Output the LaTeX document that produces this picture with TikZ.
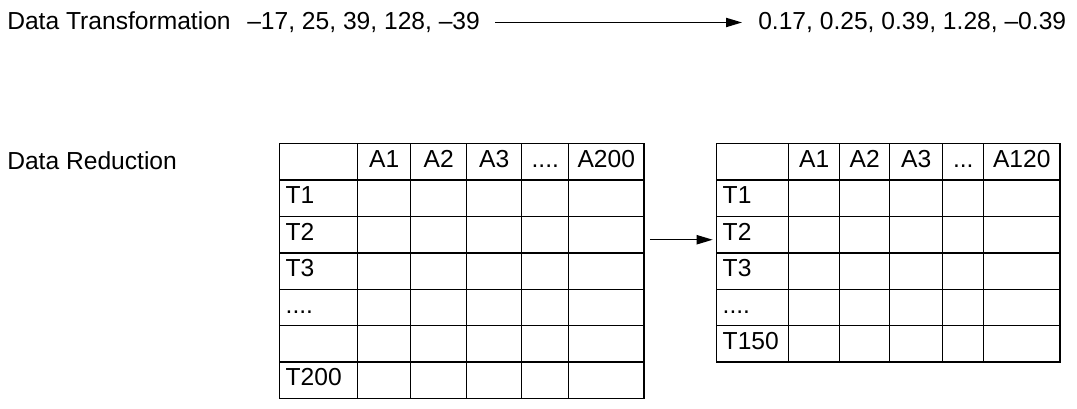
\documentclass[tikz,border=0pt]{standalone}
\usepackage{fontspec}
\setmainfont{Liberation Sans}
\usetikzlibrary{matrix,arrows.meta}
\tikzset{
	cell/.style={draw, line width=1pt, minimum height=0.91cm, inner sep=0pt, anchor=center,
		text height=0.8em, text depth=0pt},
	lbl/.style={anchor=base west, inner sep=0pt},
	arr/.style={line width=1pt, -{Triangle[length=0.4cm, width=0.23cm]}},
	tbl/.style={matrix of nodes, nodes in empty cells, anchor=north west, inner sep=0pt, outer sep=0pt,
		column sep=-1pt, row sep=-1pt, nodes={cell},
		column 1/.style={nodes={text width=#1, align=left, inner xsep=0.15cm}}},
}
\begin{document}
\begin{tikzpicture}[x=0.025cm, y=-0.025cm, font=\fontsize{17.5}{21}\selectfont]
					\useasboundingbox (0,0) rectangle (1077,408);
					\node[lbl] (trans) at (7,29.5) {Data Transformation};
					\node[lbl] (raw) at (247,29.5) {--17, 25, 39, 128, --39};
					\node[lbl] (norm) at (758,29.5) {0.17, 0.25, 0.39, 1.28, --0.39};
					\draw[arr, shorten <=0.375cm, shorten >=0.4cm] (raw.east) -- (raw.east -| norm.west);
					\node[lbl] (red) at (7,169) {Data Reduction};
					\matrix (lt) [tbl=1.65cm,
						column 2/.style={nodes={minimum width=1.325cm}},
						column 3/.style={nodes={minimum width=1.4cm}},
						column 4/.style={nodes={minimum width=1.375cm}},
						column 5/.style={nodes={minimum width=1.175cm}},
						column 6/.style={nodes={minimum width=1.875cm}}] at (279,143) {
						& A1 & A2 & A3 & .... & A200 \\
						T1 &&&&& \\
						T2 &&&&& \\
						T3 &&&&& \\
						.... &&&&& \\
						&&&&& \\
						T200 &&&&& \\
					};
					\matrix (rt) [tbl=1.5cm,
						column 2/.style={nodes={minimum width=1.275cm}},
						column 3/.style={nodes={minimum width=1.25cm}},
						column 4/.style={nodes={minimum width=1.325cm}},
						column 5/.style={nodes={minimum width=1.025cm}},
						column 6/.style={nodes={minimum width=1.9cm}}] at (716,143) {
						& A1 & A2 & A3 & ... & A120 \\
						T1 &&&&& \\
						T2 &&&&& \\
						T3 &&&&& \\
						.... &&&&& \\
						T150 &&&&& \\
					};
					\draw[arr, shorten <=0.15cm, shorten >=0.1cm] ([yshift=-0.125cm]lt-3-6.east) -- ([yshift=-0.125cm]rt-3-1.west);
\end{tikzpicture}
\end{document}
